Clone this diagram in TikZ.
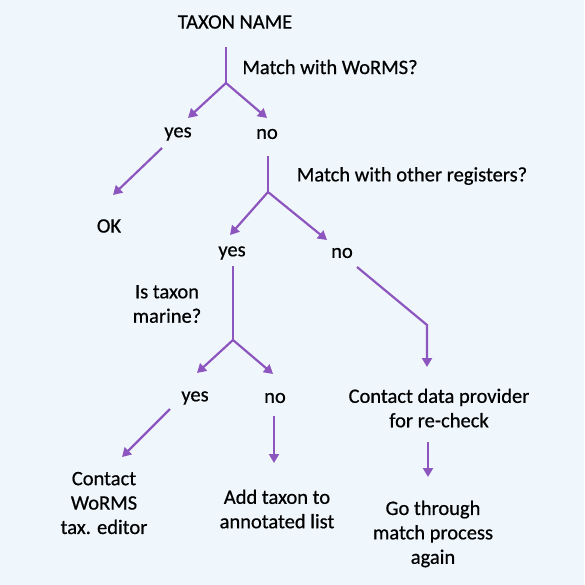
\documentclass[tikz,border=0pt]{standalone}
\usepackage{fontspec}
\setmainfont{Carlito}[FakeBold=0.6]
\usepackage{tikz}
\usetikzlibrary{arrows.meta}
\definecolor{flowpurple}{RGB}{141,85,190}
\definecolor{paleblue}{RGB}{239,247,253}

\begin{document}
\begin{tikzpicture}[x=1pt,y=-1pt]
				\tikzstyle{t}=[inner sep=0pt, align=center, font=\fontsize{20.5}{24.4}\selectfont]
				\tikzstyle{ln}=[draw=flowpurple, line width=2.2pt]
				\tikzstyle{arr}=[ln, -{Triangle[length=9pt,width=10pt]}]

				\fill[paleblue] (0,0) rectangle (584,585);

				\node[t] (taxon) at (235,22) {TAXON NAME};
				\node[t] (q1) at (330,67) {Match with WoRMS?};
				\node[t] (yes1) at (178,134) {yes};
				\node[t] (no1) at (267,134) {no};
				\node[t] (ok) at (109,226) {OK};
				\node[t] (q2) at (412,176) {Match with other registers?};
				\node[t] (yes2) at (232,253) {yes};
				\node[t] (no2) at (342,253) {no};
				\node[t] (q3) at (167,304) {Is taxon\\marine?};
				\node[t] (yes3) at (195,398) {yes};
				\node[t] (no3) at (275,398) {no};
				\node[t] (contact) at (104,503) {Contact\\WoRMS\\tax. editor};
				\node[t] (addlist) at (277,509) {Add taxon to\\annotated list};
				\node[t] (provider) at (439,408) {Contact data provider\\for re-check};
				\node[t] (again) at (433,534) {Go through\\match process\\again};

				\coordinate (j1) at (226,83);
				\coordinate (j2) at (268,192);
				\coordinate (j3) at (233,340);
				\coordinate (bend) at (427,325);

				% first question
				\draw[ln] ([yshift=-25pt]taxon -| j1) -- (j1);
				\draw[arr] (j1) -- ([xshift=10pt,yshift=16pt]yes1.center);
				\draw[arr] (j1) -- ([yshift=16pt]no1.center);
				\draw[arr] ([xshift=-16pt,yshift=-14pt]yes1.center) -- ([xshift=4pt,yshift=31pt]ok.center);

				% second question
				\draw[ln] ([yshift=-22pt]no1 -| j2) -- (j2);
				\draw[arr] (j2) -- ([xshift=-2pt,yshift=18pt]yes2.center);
				\draw[arr] (j2) -- ([xshift=-15pt,yshift=13pt]no2.center);
				\draw[arr] ([xshift=15pt,yshift=-14pt]no2.center) -- (bend) -- ([xshift=-12pt,yshift=41pt]provider.center);
				\draw[arr] ([xshift=-11pt,yshift=-34pt]provider.center) -- ([xshift=-5pt,yshift=57pt]again.center);

				% marine?
				\draw[ln] ([yshift=-13pt]yes2 -| j3) -- (j3);
				\draw[arr] (j3) -- ([xshift=2pt,yshift=25pt]yes3.center);
				\draw[arr] (j3) -- ([xshift=-2pt,yshift=24pt]no3.center);
				\draw[arr] ([xshift=-25pt,yshift=-11pt]yes3.center) -- ([xshift=18pt,yshift=46pt]contact.center);
				\draw[arr] ([xshift=-1pt,yshift=-18pt]no3.center) -- ([xshift=-3pt,yshift=46pt]addlist.center);
			\end{tikzpicture}
\end{document}
